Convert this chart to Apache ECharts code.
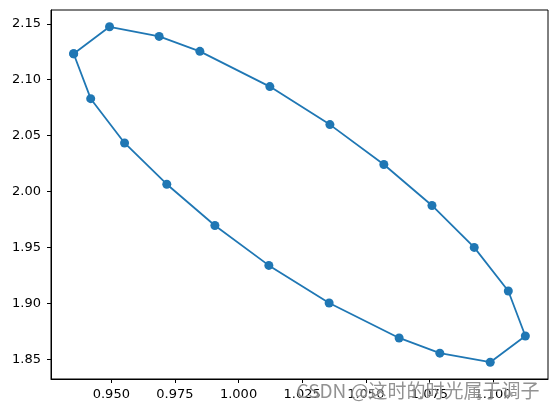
<!DOCTYPE html>
<html>
<head>
<meta charset="utf-8">
<script src="https://cdn.jsdelivr.net/npm/echarts@6/dist/echarts.min.js"></script>
<style>
html,body{margin:0;padding:0;background:#fff;}
#main{width:556px;height:413px;}
</style>
</head>
<body>
<div id="main"></div>
<script>
// Data
var xValues = [0.9352, 0.9493, 0.9688, 0.9848, 1.0123, 1.0359, 1.0571, 1.0760, 1.0926, 1.1060,
               1.1127, 1.0989, 1.0791, 1.0631, 1.0356, 1.0119, 0.9907, 0.9718, 0.9552, 0.9419, 0.9352];
var yValues = [2.1232, 2.1473, 2.1387, 2.1253, 2.0938, 2.0598, 2.0241, 1.9875, 1.9500, 1.9110,
               1.8708, 1.8473, 1.8554, 1.8690, 1.9003, 1.9339, 1.9696, 2.0065, 2.0434, 2.0830, 2.1232];
var xTicks = [0.950, 0.975, 1.000, 1.025, 1.050, 1.075, 1.100];
var yTicks = [1.85, 1.90, 1.95, 2.00, 2.05, 2.10, 2.15];
var watermark = 'CSDN @这时的时光属于调子';

var points = xValues.map(function (x, i) { return [x, yValues[i]]; });

var chart = echarts.init(document.getElementById('main'), null, {renderer: 'canvas'});
var font = 'DejaVu Sans';
chart.setOption({
  animation: false,
  backgroundColor: '#ffffff',
  grid: {left: 51, right: 8, top: 10, bottom: 34, show: true, borderColor: '#000', borderWidth: 1, backgroundColor: 'transparent'},
  xAxis: {
    type: 'value', min: 0.9263, max: 1.1216,
    axisLine: {show: true, onZero: false, lineStyle: {color: '#000', width: 1}},
    axisTick: {show: true, length: 4, lineStyle: {color: '#000'}, customValues: xTicks},
    axisLabel: {color: '#000', fontFamily: font, fontSize: 13, margin: 9, customValues: xTicks,
      formatter: function (v) { return v.toFixed(3); }},
    splitLine: {show: false}
  },
  yAxis: {
    type: 'value', min: 1.8323, max: 2.1623,
    axisLine: {show: true, onZero: false, lineStyle: {color: '#000', width: 1}},
    axisTick: {show: true, length: 4, lineStyle: {color: '#000'}, customValues: yTicks},
    axisLabel: {color: '#000', fontFamily: font, fontSize: 13, margin: 10, customValues: yTicks,
      formatter: function (v) { return v.toFixed(2); }},
    splitLine: {show: false}
  },
  series: [{
    type: 'line',
    data: points,
    symbol: 'circle',
    symbolSize: 9,
    showSymbol: true,
    lineStyle: {color: '#1f77b4', width: 1.8},
    itemStyle: {color: '#1f77b4', borderWidth: 0},
    clip: false
  }],
  graphic: [{
    type: 'text',
    right: 16,
    top: 381,
    style: {
      text: watermark,
      font: '19px "Noto Sans CJK SC", "DejaVu Sans"',
      fill: 'rgba(110,110,110,0.75)',
      stroke: 'rgba(255,255,255,0.6)',
      lineWidth: 1
    },
    z: 100
  }]
});
</script>
</body>
</html>
